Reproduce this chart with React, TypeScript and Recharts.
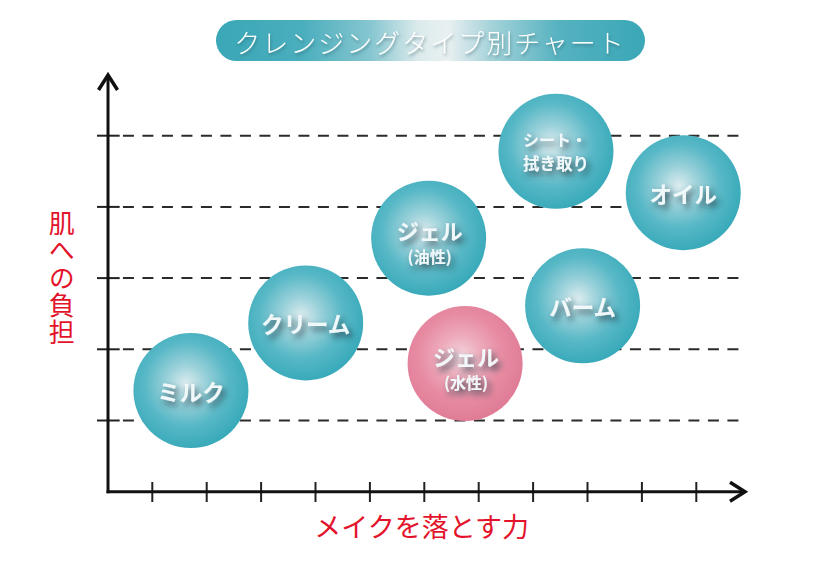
import React from "react";
import {
    ScatterChart,
    Scatter,
    XAxis,
    YAxis,
    ReferenceLine
} from "recharts";

// Bubble chart: cleansing types by makeup-removal power vs. skin burden
const cleansingTypes = [
    ["ミルク"],
    ["クリーム"],
    ["ジェル", "(油性)"],
    ["ジェル", "(水性)"],
    ["シート・", "拭き取り"],
    ["バーム"],
    ["オイル"]
];
const makeupRemoval = [1.71, 3.82, 6.08, 6.75, 8.42, 8.91, 10.76];
const skinBurden = [1.42, 2.37, 3.56, 1.8, 4.78, 2.61, 4.2];
const bubbleTone = ["teal", "teal", "teal", "pink", "teal", "teal", "teal"];

const xTicks = [1, 2, 3, 4, 5, 6, 7, 8, 9, 10, 11];
const yTicks = [1, 2, 3, 4, 5];

const title = "クレンジングタイプ別チャート";
const xLabel = "メイクを落とす力";
const yLabel = "肌への負担";

const FONT = '"Noto Sans CJK JP", "Noto Sans CJK SC", sans-serif';
const W = 833;
const H = 578;

const data = cleansingTypes.map((lines, i) => ({
    lines,
    x: makeupRemoval[i],
    y: skinBurden[i],
    tone: bubbleTone[i]
}));

function ArrowLine(props: any) {
    const { x1, y1, x2, y2 } = props;
    const len = Math.hypot(x2 - x1, y2 - y1) || 1;
    const ux = (x2 - x1) / len;
    const uy = (y2 - y1) / len;
    const px = -uy;
    const py = ux;
    const back = 15;
    const half = 9.5;
    const pts = `${x2 - back * ux + half * px},${y2 - back * uy + half * py} ${x2},${y2} ${x2 - back * ux - half * px},${y2 - back * uy - half * py}`;
    return (
        <g>
            <line
                x1={x1 - 1.5 * ux}
                y1={y1 - 1.5 * uy}
                x2={x2 - 1.5 * ux}
                y2={y2 - 1.5 * uy}
                stroke="#111"
                strokeWidth={3}
            />
            <polyline points={pts} fill="none" stroke="#111" strokeWidth={3.5} strokeLinejoin="miter" />
        </g>
    );
}

function Bubble(props: any) {
    const { cx, cy, payload } = props;
    if (cx == null || cy == null) return null;
    const lines: string[] = payload.lines;
    const fill = payload.tone === "pink" ? "url(#bubblePink)" : "url(#bubbleTeal)";
    const textProps = {
        fill: "#f1f8fa",
        fontFamily: FONT,
        fontWeight: 700,
        textAnchor: "middle" as const,
        dominantBaseline: "central" as const,
        filter: "url(#textShadow)"
    };
    let texts;
    if (lines.length === 1) {
        texts = <text x={cx} y={cy} fontSize={22.5} {...textProps}>{lines[0]}</text>;
    } else if (lines[1].startsWith("(")) {
        texts = (
            <text {...textProps}>
                <tspan x={cx + 1} y={cy - 8} fontSize={22}>{lines[0]}</tspan>
                <tspan x={cx + 1} y={cy + 18} fontSize={16}>{lines[1]}</tspan>
            </text>
        );
    } else {
        texts = (
            <text {...textProps}>
                <tspan x={cx - 1} y={cy - 12} fontSize={16}>{lines[0]}</tspan>
                <tspan x={cx} y={cy + 11.5} fontSize={16.5}>{lines[1]}</tspan>
            </text>
        );
    }
    return (
        <g>
            <circle cx={cx} cy={cy} r={57.5} fill={fill} />
            {texts}
        </g>
    );
}

export default function App() {
    return (
        <div style={{ position: "absolute", left: 0, top: 0, width: W, height: H, background: "#fff" }}>
            <svg width={0} height={0} style={{ position: "absolute" }}>
                <defs>
                    <radialGradient id="bubbleTeal" cx="46%" cy="44%" r="56%">
                        <stop offset="0%" stopColor="#dcecef" />
                        <stop offset="30%" stopColor="#9ad1da" />
                        <stop offset="65%" stopColor="#58b8c6" />
                        <stop offset="100%" stopColor="#39aaba" />
                    </radialGradient>
                    <radialGradient id="bubblePink" cx="46%" cy="44%" r="56%">
                        <stop offset="0%" stopColor="#f3d8df" />
                        <stop offset="30%" stopColor="#eeaebe" />
                        <stop offset="65%" stopColor="#e78ca3" />
                        <stop offset="100%" stopColor="#e07c95" />
                    </radialGradient>
                    <linearGradient id="titleFill" x1="0" y1="0" x2="1" y2="0">
                        <stop offset="0%" stopColor="#3aa7b7" />
                        <stop offset="20%" stopColor="#4aaebd" />
                        <stop offset="36%" stopColor="#86c6d0" />
                        <stop offset="47%" stopColor="#dbeaec" />
                        <stop offset="54%" stopColor="#e9f0f1" />
                        <stop offset="64%" stopColor="#a6d3da" />
                        <stop offset="80%" stopColor="#55b2c0" />
                        <stop offset="100%" stopColor="#3aa7b7" />
                    </linearGradient>
                    <filter id="textShadow" x="-30%" y="-50%" width="160%" height="200%">
                        <feDropShadow dx={3} dy={4} stdDeviation={3} floodColor="#1c363e" floodOpacity={0.8} />
                    </filter>
                    <filter id="titleShadow" x="-10%" y="-50%" width="120%" height="200%">
                        <feDropShadow dx={1} dy={2} stdDeviation={1.5} floodColor="#2a5660" floodOpacity={0.5} />
                    </filter>
                </defs>
            </svg>

            <ScatterChart
                width={W}
                height={H}
                margin={{ top: 64.5, right: 82.3, bottom: 86.3, left: 97.9 }}
            >
                <XAxis type="number" dataKey="x" domain={[0, 12]} hide allowDataOverflow />
                <YAxis type="number" dataKey="y" domain={[0, 6]} hide allowDataOverflow />

                {yTicks.map(t => (
                    <ReferenceLine
                        key={`grid-${t}`}
                        segment={[{ x: 0.46, y: t }, { x: 11.82, y: t }]}
                        stroke="#2b2b2b"
                        strokeWidth={2}
                        strokeDasharray="11 8.5"
                        ifOverflow="visible"
                    />
                ))}
                {yTicks.map(t => (
                    <ReferenceLine
                        key={`ytick-${t}`}
                        segment={[{ x: -0.017, y: t }, { x: 0.4, y: t }]}
                        stroke="#222"
                        strokeWidth={2}
                        ifOverflow="visible"
                    />
                ))}
                {xTicks.map(t => (
                    <ReferenceLine
                        key={`xtick-${t}`}
                        segment={[{ x: t, y: 0.136 }, { x: t, y: -0.145 }]}
                        stroke="#222"
                        strokeWidth={2}
                        ifOverflow="visible"
                    />
                ))}
                <ReferenceLine
                    segment={[{ x: 0.186, y: 0 }, { x: 11.895, y: 0 }]}
                    ifOverflow="visible"
                    shape={ArrowLine}
                />
                <ReferenceLine
                    segment={[{ x: 0.186, y: 0 }, { x: 0.186, y: 5.852 }]}
                    ifOverflow="visible"
                    shape={ArrowLine}
                />

                <Scatter data={data} shape={Bubble} isAnimationActive={false} />
            </ScatterChart>

            <svg
                width={W}
                height={H}
                style={{ position: "absolute", left: 0, top: 0, pointerEvents: "none" }}
            >
                <rect x={216} y={20} width={429} height={41} rx={20.5} fill="url(#titleFill)" />
                <text
                    x={430}
                    y={41}
                    fill="#ffffff"
                    fontFamily={FONT}
                    fontWeight={300}
                    fontSize={26}
                    letterSpacing={2}
                    textAnchor="middle"
                    dominantBaseline="central"
                    filter="url(#titleShadow)"
                >
                    {title}
                </text>

                <text
                    x={421.7}
                    y={525.5}
                    fill="#e3132c"
                    fontFamily={FONT}
                    fontSize={27}
                    textAnchor="middle"
                    dominantBaseline="central"
                >
                    {xLabel}
                </text>

                <text
                    x={61.7}
                    y={278.5}
                    fill="#e3132c"
                    fontFamily={FONT}
                    fontSize={26}
                    letterSpacing={1.4}
                    textAnchor="middle"
                    dominantBaseline="central"
                    style={{ writingMode: "vertical-rl" }}
                >
                    {yLabel}
                </text>
            </svg>
        </div>
    );
}
